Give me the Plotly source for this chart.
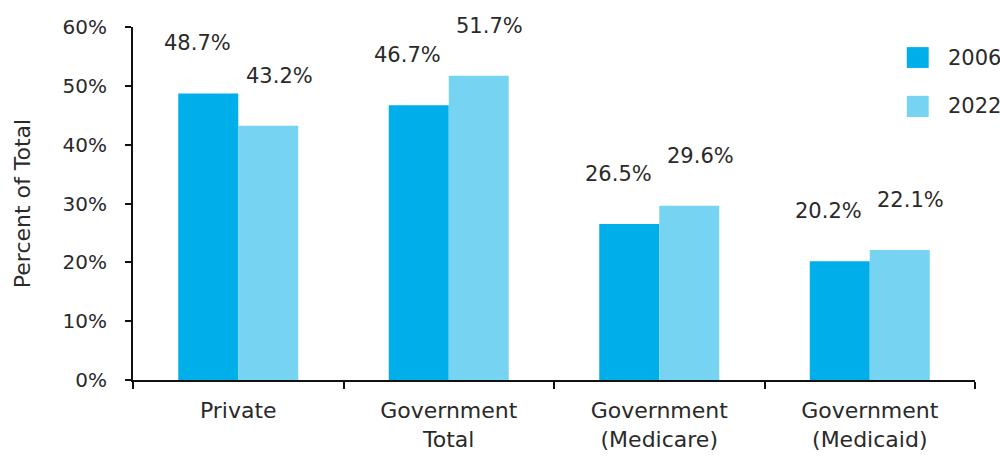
import plotly.graph_objects as go

categories = ["Private", "Government<br>Total", "Government<br>(Medicare)", "Government<br>(Medicaid)"]
values_2006 = [48.7, 46.7, 26.5, 20.2]
values_2022 = [43.2, 51.7, 29.6, 22.1]
series_names = ["2006", "2022"]
y_ticks = [0, 10, 20, 30, 40, 50, 60]
y_tick_labels = ["0%", "10%", "20%", "30%", "40%", "50%", "60%"]

colors = ["#00AEEA", "#76D4F2"]
FONT = "DejaVu Sans"
TXT = "#2a2a2a"

fig = go.Figure()
for name, vals, col in zip(series_names, [values_2006, values_2022], colors):
    fig.add_trace(go.Bar(x=categories, y=vals, name=name, marker=dict(color=col, line=dict(width=0)),
                         showlegend=False, hoverinfo="skip"))

annotations = []
for i, (vals, sign) in enumerate(zip([values_2006, values_2022], [-1, 1])):
    for c, v in zip(categories, vals):
        annotations.append(dict(x=c, y=v, xref="x", yref="y", text=f"{v:.1f}%", showarrow=False,
                                xshift=sign * 41, yshift=50, xanchor="center", yanchor="middle",
                                font=dict(family=FONT, size=21, color=TXT)))

# custom legend (large square swatches)
leg_y = [(0.943, 0.884), (0.805, 0.745)]
shapes = []
for (y1, y0), name, col in zip(leg_y, series_names, colors):
    shapes.append(dict(type="rect", xref="paper", yref="paper", x0=0.919, x1=0.945, y0=y0, y1=y1,
                       fillcolor=col, line=dict(width=0)))
    annotations.append(dict(x=0.965, y=(y0 + y1) / 2, xref="paper", yref="paper", text=name,
                            showarrow=False, xanchor="left", yanchor="middle",
                            font=dict(family=FONT, size=21, color=TXT)))

fig.update_layout(
    width=1000, height=459,
    margin=dict(l=133, r=25, t=27, b=79),
    paper_bgcolor="white", plot_bgcolor="white",
    bargap=0.43, bargroupgap=0,
    font=dict(family=FONT, size=20, color=TXT),
    annotations=annotations, shapes=shapes,
    xaxis=dict(range=[-0.5, 3.5], showline=True, linecolor="#111", linewidth=2,
               ticks="outside", ticklen=7, tickwidth=2, tickcolor="#111", tickson="boundaries",
               showgrid=False, zeroline=False, ticklabelstandoff=10, automargin=False,
               tickfont=dict(family=FONT, size=22, color=TXT)),
    yaxis=dict(range=[0, 60], tickvals=y_ticks, ticktext=y_tick_labels, showline=True,
               linecolor="#111", linewidth=2, ticks="outside", ticklen=6, tickwidth=2,
               tickcolor="#111", showgrid=False, zeroline=False, ticklabelstandoff=14, automargin=False,
               tickfont=dict(family=FONT, size=20, color=TXT),
               title=dict(text="Percent of Total", standoff=26, font=dict(family=FONT, size=22, color=TXT))),
)

fig.write_html("out.html")
